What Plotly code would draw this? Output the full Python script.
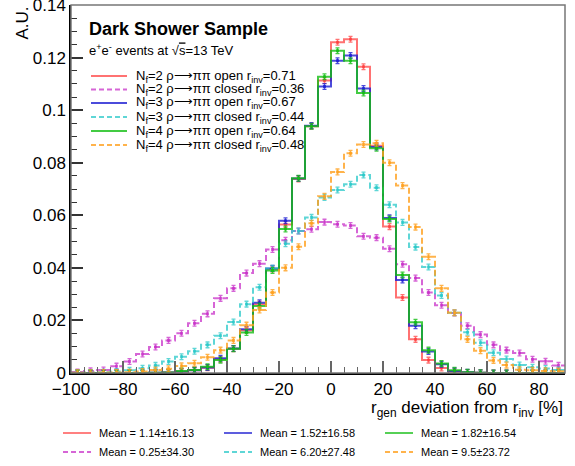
import plotly.graph_objects as go

# ---------------- data ----------------
bin_edges = [-100 + 5 * i for i in range(39)]  # -100 ... 90, width 5
bin_centers = [e + 2.5 for e in bin_edges[:-1]]

nf2_open = [0, 0, 0, 0, 0, 0, 0.0001, 0.0002, 0.0005, 0.0010, 0.0020, 0.0052, 0.0092, 0.0163,
            0.0262, 0.0396, 0.0565, 0.0738, 0.0939, 0.1113, 0.1258, 0.1270, 0.1165, 0.0865,
            0.0557, 0.0287, 0.0128, 0.0049, 0.0019, 0.0005, 0.0002, 0.0001, 0, 0, 0, 0, 0, 0]
nf2_closed = [0.0004, 0.0008, 0.0011, 0.0026, 0.0044, 0.0072, 0.0099, 0.0124, 0.0151, 0.0189,
              0.0225, 0.0284, 0.0322, 0.0380, 0.0416, 0.0470, 0.0505, 0.0540, 0.0547, 0.0574,
              0.0566, 0.0561, 0.0520, 0.0515, 0.0473, 0.0414, 0.0361, 0.0306, 0.0258, 0.0228,
              0.0180, 0.0146, 0.0107, 0.0087, 0.0076, 0.0052, 0.0045, 0.0029]
nf3_open = [0, 0, 0, 0, 0, 0, 0.0001, 0.0002, 0.0006, 0.0010, 0.0021, 0.0056, 0.0093, 0.0166,
            0.0267, 0.0398, 0.0579, 0.0740, 0.0941, 0.1090, 0.1188, 0.1208, 0.1082, 0.0860,
            0.0590, 0.0354, 0.0180, 0.0082, 0.0033, 0.0008, 0.0003, 0.0001, 0, 0, 0, 0, 0, 0]
nf3_closed = [0.0001, 0.0002, 0.0003, 0.0006, 0.0010, 0.0018, 0.0029, 0.0044, 0.0062, 0.0083,
              0.0107, 0.0142, 0.0194, 0.0262, 0.0326, 0.0398, 0.0492, 0.0540, 0.0592, 0.0668,
              0.0696, 0.0718, 0.0753, 0.0705, 0.0640, 0.0573, 0.0479, 0.0403, 0.0295, 0.0229,
              0.0155, 0.0115, 0.0077, 0.0053, 0.0030, 0.0022, 0.0017, 0.0011]
nf4_open = [0, 0, 0, 0, 0, 0, 0.0001, 0.0002, 0.0008, 0.0011, 0.0024, 0.0049, 0.0092, 0.0154,
            0.0255, 0.0390, 0.0548, 0.0741, 0.0939, 0.1127, 0.1226, 0.1188, 0.1065, 0.0855,
            0.0586, 0.0373, 0.0193, 0.0087, 0.0036, 0.0010, 0.0003, 0.0001, 0, 0, 0, 0, 0, 0]
nf4_closed = [0.0001, 0.0001, 0.0002, 0.0002, 0.0003, 0.0006, 0.0011, 0.0016, 0.0027, 0.0037,
              0.0060, 0.0087, 0.0124, 0.0182, 0.0240, 0.0306, 0.0400, 0.0480, 0.0570, 0.0672,
              0.0765, 0.0836, 0.0869, 0.0874, 0.0800, 0.0713, 0.0555, 0.0442, 0.0322, 0.0229,
              0.0128, 0.0085, 0.0048, 0.0030, 0.0012, 0.0010, 0.0008, 0.0007]

series_names = ["N<sub>f</sub>=2 ρ⟶ππ open r<sub>inv</sub>=0.71",
                "N<sub>f</sub>=2 ρ⟶ππ closed r<sub>inv</sub>=0.36",
                "N<sub>f</sub>=3 ρ⟶ππ open r<sub>inv</sub>=0.67",
                "N<sub>f</sub>=3 ρ⟶ππ closed r<sub>inv</sub>=0.44",
                "N<sub>f</sub>=4 ρ⟶ππ open r<sub>inv</sub>=0.64",
                "N<sub>f</sub>=4 ρ⟶ππ closed r<sub>inv</sub>=0.48"]
mean_labels = ["Mean = 1.14±16.13", "Mean = 0.25±34.30", "Mean = 1.52±16.58",
               "Mean = 6.20±27.48", "Mean = 1.82±16.54", "Mean = 9.5±23.72"]
series_values = [nf2_open, nf2_closed, nf3_open, nf3_closed, nf4_open, nf4_closed]
colors = ["rgba(255,60,60,0.72)", "rgba(200,50,200,0.75)", "rgba(30,30,210,0.8)",
          "rgba(40,200,200,0.75)", "rgba(20,190,20,0.8)", "rgba(255,160,30,0.8)"]
dashed = [False, True, False, True, False, True]

# ---------------- layout constants ----------------
W, H = 575, 466
L, R, T, B = 71, 10, 5, 93
PW, PH = W - L - R, H - T - B
FONT = "Liberation Sans, Arial, sans-serif"


def pxx(px):
    return (px - L) / PW


def pxy(py):
    return (T + PH - py) / PH


fig = go.Figure()
for vals, col, dsh in zip(series_values, colors, dashed):
    line = dict(color=col, width=2, shape="hv")
    if dsh:
        line["dash"] = "6px,3px"
    fig.add_trace(go.Scatter(x=bin_edges, y=vals + [vals[-1]], mode="lines", line=line,
                             hoverinfo="skip", showlegend=False))
    fig.add_trace(go.Scatter(x=bin_centers, y=vals, mode="markers",
                             marker=dict(color=col, size=3, symbol="square"),
                             error_y=dict(type="constant", value=0.0011, color=col,
                                          thickness=1.3, width=2),
                             showlegend=False))

shapes = []
annotations = []

# frame (top / right grey)
shapes.append(dict(type="rect", xref="paper", yref="paper", x0=0, x1=1, y0=0, y1=1,
                   line=dict(color="#777", width=1.5), layer="above"))

# top-left legend
rows_y = [76, 89.5, 103, 117, 131, 145]
for i, (name, col, dsh) in enumerate(zip(series_names, colors, dashed)):
    y = pxy(rows_y[i])
    shapes.append(dict(type="line", xref="paper", yref="paper", x0=pxx(91), x1=pxx(127),
                       y0=y, y1=y, line=dict(color=col, width=2, dash="5px,3px" if dsh else "solid")))
    annotations.append(dict(xref="paper", yref="paper", x=pxx(134), y=y, text=name,
                            showarrow=False, xanchor="left", yanchor="middle",
                            font=dict(family=FONT, size=13, color="black")))

# bottom legend (3 columns x 2 rows)
col_x = [63, 224, 385]
row_y = [433, 452]
order = [(0, 0), (1, 0), (2, 0), (0, 1), (1, 1), (2, 1)]
idx_map = [0, 2, 4, 1, 3, 5]
for (c, r), idx in zip(order, idx_map):
    y = pxy(row_y[r])
    shapes.append(dict(type="line", xref="paper", yref="paper", x0=pxx(col_x[c]),
                       x1=pxx(col_x[c] + 28), y0=y, y1=y,
                       line=dict(color=colors[idx], width=1.8,
                                 dash="5px,3px" if dashed[idx] else "solid")))
    annotations.append(dict(xref="paper", yref="paper", x=pxx(col_x[c] + 34), y=y,
                            text=mean_labels[idx], showarrow=False, xanchor="left",
                            yanchor="middle", font=dict(family=FONT, size=11, color="black")))

# titles / texts
annotations.append(dict(xref="paper", yref="paper", x=pxx(87), y=pxy(29),
                        text="<b>Dark Shower Sample</b>", showarrow=False, xanchor="left",
                        yanchor="middle", font=dict(family=FONT, size=18, color="black")))
annotations.append(dict(xref="paper", yref="paper", x=pxx(87), y=pxy(50),
                        text="e<sup>+</sup>e<sup>-</sup> events at √<span style='text-decoration:overline'>s</span>=13 TeV",
                        showarrow=False, xanchor="left", yanchor="middle",
                        font=dict(family=FONT, size=13, color="black")))
annotations.append(dict(xref="paper", yref="paper", x=pxx(22), y=1, text="A.U.",
                        textangle=-90, showarrow=False, xanchor="center", yanchor="top",
                        font=dict(family=FONT, size=17, color="black")))
annotations.append(dict(xref="paper", yref="paper", x=1, y=pxy(409),
                        text="r<sub>gen</sub> deviation from r<sub>inv</sub> [%]",
                        showarrow=False, xanchor="right", yanchor="middle",
                        font=dict(family=FONT, size=17, color="black")))

fig.update_layout(
    width=W, height=H,
    margin=dict(l=L, r=R, t=T, b=B, autoexpand=False),
    paper_bgcolor="white", plot_bgcolor="white",
    shapes=shapes, annotations=annotations,
    font=dict(family=FONT, color="black"),
    xaxis=dict(range=[-100, 90], tickmode="linear", tick0=-100, dtick=20,
               ticks="inside", ticklen=12, tickwidth=1.5, tickcolor="#666",
               minor=dict(ticks="inside", ticklen=6, dtick=5, tickcolor="#666", tickwidth=1.2),
               showline=True, linecolor="black", linewidth=1.5, showgrid=False,
               zeroline=False, ticklabeloverflow="allow", automargin=False,
               tickfont=dict(family=FONT, size=17, color="black")),
    yaxis=dict(range=[0, 0.140001], tickmode="linear", tick0=0, dtick=0.02,
               ticks="inside", ticklen=12, tickwidth=1.5, tickcolor="#333",
               minor=dict(ticks="inside", ticklen=6, dtick=0.005, tickcolor="#333", tickwidth=1.2),
               showline=True, linecolor="black", linewidth=1.5, showgrid=False,
               zeroline=False, tickformat="~g", ticklabeloverflow="allow", automargin=False,
               tickfont=dict(family=FONT, size=17, color="black")),
)

fig.write_html("out.html")
